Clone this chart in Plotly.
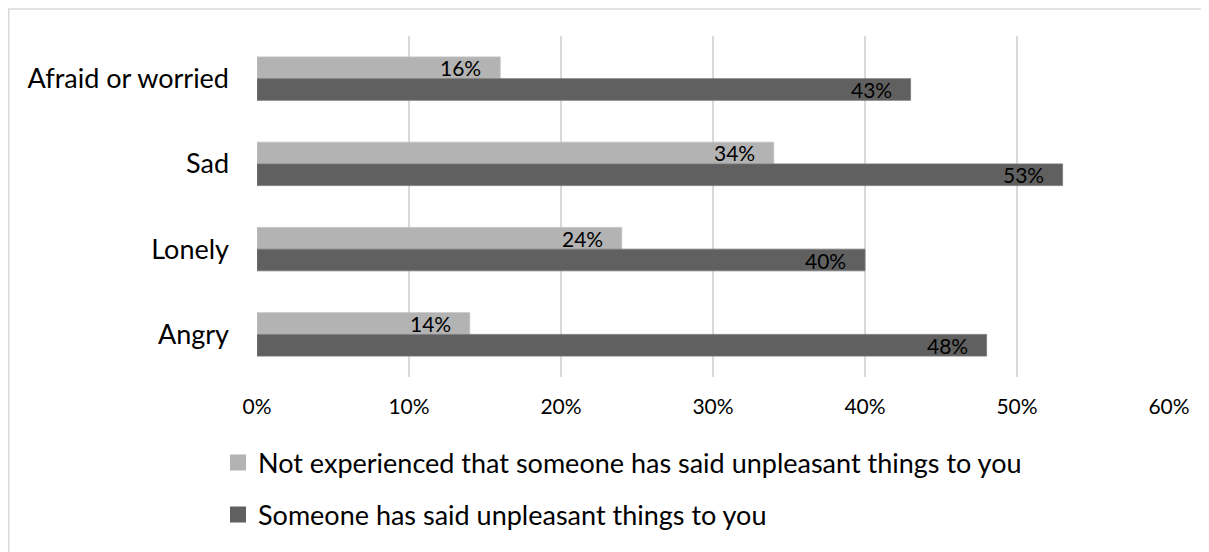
import plotly.graph_objects as go

categories = ["Afraid or worried", "Sad", "Lonely", "Angry"]
series_names = ["Not experienced that someone has said unpleasant things to you",
                "Someone has said unpleasant things to you"]
not_experienced = [0.16, 0.34, 0.24, 0.14]
experienced = [0.43, 0.53, 0.40, 0.48]
tick_vals = [0, 0.1, 0.2, 0.3, 0.4, 0.5, 0.6]
tick_text = ["0%", "10%", "20%", "30%", "40%", "50%", "60%"]

FONT = "Lato, 'Open Sans', sans-serif"
colors = ["#b3b3b3", "#606060"]
outline = ["#c2c2c2", "#7a7a7a"]

# figure is placed 8px from the page corner by the page margin
W, H = 1201, 544
L, R, T, B = 249, 40, 28, 172
PW, PH = W - L - R, H - T - B

def px_x(p):
    return (p - L) / PW

def px_y(p):
    return 1 - (p - T) / PH

fig = go.Figure()
for i, (name, vals) in enumerate(zip(series_names, [not_experienced, experienced])):
    fig.add_trace(go.Bar(
        y=categories, x=vals, name=name, orientation="h",
        marker=dict(color=colors[i], line=dict(color=outline[i], width=0.8)),
        showlegend=False, hoverinfo="x+y",
    ))
    for c, v in zip(categories, vals):
        fig.add_annotation(
            x=v, y=c, xref="x", yref="y", text=f"{round(v*100)}%",
            showarrow=False, xanchor="right", xshift=-17,
            yshift=11 if i == 0 else -11,
            font=dict(family=FONT, size=21, color="#000000"),
        )

# legend entries (square swatches)
for i, name in enumerate(series_names):
    fig.add_trace(go.Scatter(
        x=[None], y=[None], mode="markers", name=name,
        marker=dict(symbol="square", size=16, color=colors[i]),
        legendgroup=f"g{i}", showlegend=True, hoverinfo="skip",
    ))

fig.update_layout(
    width=W, height=H,
    margin=dict(l=L, r=R, t=T, b=B, pad=0),
    paper_bgcolor="white", plot_bgcolor="white",
    barmode="group", bargap=0.49, bargroupgap=0,
    font=dict(family=FONT, color="#000000"),
    xaxis=dict(range=[0, 0.6], tickvals=tick_vals, ticktext=tick_text,
               showgrid=True, gridcolor="#d9d9d9", gridwidth=1.5,
               zeroline=False, showline=False, ticks="",
               tickfont=dict(family=FONT, size=21, color="#000000"),
               ticklabelstandoff=15, fixedrange=True),
    yaxis=dict(categoryorder="array", categoryarray=categories, autorange="reversed",
               showgrid=False, zeroline=False, showline=False, ticks="",
               tickfont=dict(family=FONT, size=27, color="#000000"),
               ticklabelstandoff=27, fixedrange=True),
    legend=dict(x=px_x(210), y=px_y(434), xanchor="left", yanchor="top",
                orientation="v", traceorder="grouped", tracegroupgap=14,
                font=dict(family=FONT, size=27, color="#000000"),
                bgcolor="rgba(0,0,0,0)"),
    showlegend=True,
    shapes=[dict(type="rect", xref="paper", yref="paper",
                 x0=px_x(0.75), x1=px_x(1230), y0=px_y(0.75), y1=px_y(580),
                 line=dict(color="#d9d9d9", width=1.5), fillcolor="rgba(0,0,0,0)", layer="below")],
)

fig.write_html("out.html")
